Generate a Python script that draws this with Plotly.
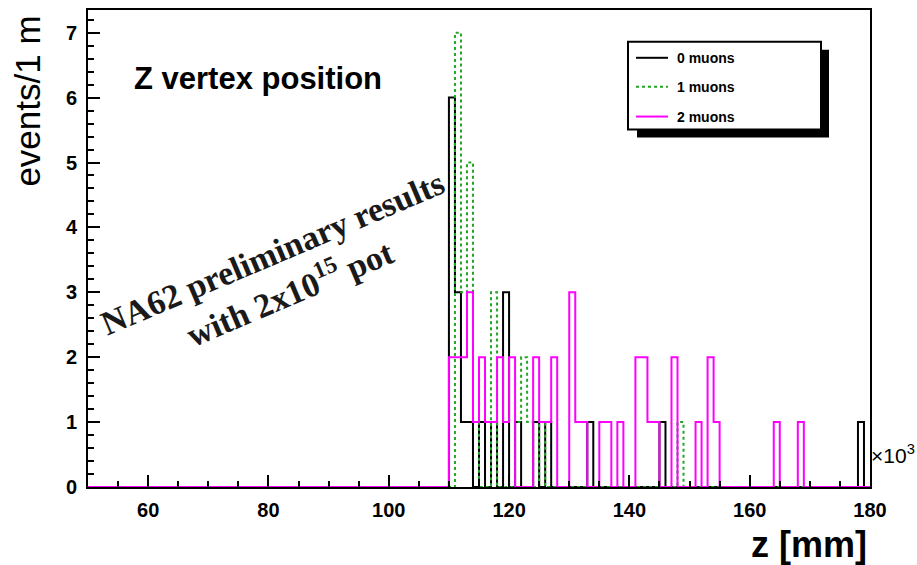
import plotly.graph_objects as go

# ---------------- data (bins of 1 m, x in units of 10^3 mm) ----------------
x_min, x_max = 50, 180
first_listed_bin = 108
# counts for bins 108 .. 179 (bins 50..107 are empty)
zero_muons = [0, 0, 6, 3, 1, 1, 0, 1, 0, 1, 0, 3, 0, 1, 0, 0, 1, 0, 1, 0,
              0, 0, 0, 0, 0, 1, 0, 0, 0, 0, 0, 0, 0, 0, 0, 0, 0, 1, 0, 0,
              0, 0, 0, 0, 0, 0, 0, 0, 0, 0, 0, 0, 0, 0, 0, 0, 0, 0, 0, 0,
              0, 0, 0, 0, 0, 0, 0, 0, 0, 0, 1, 0]
one_muon = [0, 0, 0, 7, 3, 5, 1, 0, 0, 3, 0, 0, 0, 1, 2, 1, 0, 1, 0, 0,
            0, 0, 0, 0, 0, 0, 0, 0, 0, 0, 0, 0, 0, 0, 0, 0, 0, 0, 0, 0,
            1, 0, 0, 0, 0, 0, 0, 0, 0, 0, 0, 0, 0, 0, 0, 0, 0, 0, 0, 0,
            0, 0, 0, 0, 0, 0, 0, 0, 0, 0, 0, 0]
two_muons = [0, 0, 2, 2, 2, 3, 1, 2, 1, 1, 2, 1, 2, 0, 0, 0, 2, 1, 1, 2,
             0, 0, 3, 1, 1, 0, 0, 1, 1, 0, 1, 0, 0, 2, 2, 1, 1, 0, 0, 2,
             0, 0, 0, 1, 0, 2, 1, 0, 0, 0, 0, 0, 0, 0, 0, 0, 1, 0, 0, 0,
             1, 0, 0, 0, 0, 0, 0, 0, 0, 0, 0, 0]
series_names = ["0 muons", "1 muons", "2 muons"]
x_tick_labels = ["60", "80", "100", "120", "140", "160", "180"]
y_tick_labels = ["0", "1", "2", "3", "4", "5", "6", "7"]
y_max = 7.35

# ---------------- layout helpers ----------------
W, H = 917, 565
L, R, T, B = 88, 870, 8, 487


def px(x):
    return (x - L) / (R - L)


def py(y):
    return (B - y) / (B - T)


edges = list(range(x_min, x_max + 1))
n_empty = first_listed_bin - x_min


def full(c):
    return [0] * n_empty + c


styles = [dict(color="black", width=2),
          dict(color="#22a522", width=2, dash="3px,3px"),
          dict(color="#ff00ff", width=2)]

fig = go.Figure()
for name, counts, st in zip(series_names, [zero_muons, one_muon, two_muons], styles):
    c = full(counts)
    fig.add_trace(go.Scatter(
        x=edges, y=c + [c[-1]], mode="lines", line_shape="hv",
        line=st, name=name, showlegend=False, hoverinfo="skip"))

tick_font = dict(family="Liberation Sans, Arial", size=20, color="black", weight="bold")

fig.update_layout(
    width=W, height=H,
    margin=dict(l=L, r=W - R, t=T, b=H - B),
    paper_bgcolor="white", plot_bgcolor="white",
    xaxis=dict(range=[x_min, x_max], showgrid=False, zeroline=False,
               showline=True, mirror=True, linecolor="black", linewidth=2,
               ticks="inside", ticklen=12, tickwidth=2, tickcolor="black",
               tickvals=[int(v) for v in x_tick_labels], ticktext=x_tick_labels,
               tickfont=tick_font, ticklabelstandoff=4,
               minor=dict(ticks="inside", dtick=5, tick0=50, ticklen=6,
                          tickwidth=2, tickcolor="black", showgrid=False)),
    yaxis=dict(range=[0, y_max], showgrid=False, zeroline=False,
               showline=True, mirror=True, linecolor="black", linewidth=2,
               ticks="inside", ticklen=12, tickwidth=2, tickcolor="black",
               tickvals=[int(v) for v in y_tick_labels], ticktext=y_tick_labels,
               tickfont=tick_font, ticklabelstandoff=5,
               minor=dict(ticks="inside", dtick=0.2, tick0=0, ticklen=6,
                          tickwidth=2, tickcolor="black", showgrid=False)),
)

# legend box with ROOT-like shadow
shapes = [
    dict(type="rect", xref="paper", yref="paper", x0=px(637), x1=px(829),
         y0=py(136), y1=py(48), fillcolor="black", line=dict(width=0), layer="above"),
    dict(type="rect", xref="paper", yref="paper", x0=px(628), x1=px(821),
         y0=py(128), y1=py(40), fillcolor="white",
         line=dict(color="black", width=2), layer="above"),
]
annotations = []
row_y = [56, 85, 115]
for name, st, yy in zip(series_names, styles, row_y):
    shapes.append(dict(type="line", xref="paper", yref="paper",
                       x0=px(636), x1=px(668), y0=py(yy), y1=py(yy),
                       line=st, layer="above"))
    annotations.append(dict(xref="paper", yref="paper", x=px(675), y=py(yy),
                            text=name, showarrow=False, xanchor="left", yanchor="middle",
                            font=dict(family="Liberation Sans, Arial", size=14,
                                      color="black", weight="bold")))

annotations += [
    dict(xref="paper", yref="paper", x=px(132), y=py(77), text="Z vertex position",
         showarrow=False, xanchor="left", yanchor="middle",
         font=dict(family="Liberation Sans, Arial", size=31, color="black", weight="bold")),
    dict(xref="paper", yref="paper", x=px(28), y=py(100), text="events/1 m",
         showarrow=False, textangle=-90, xanchor="center", yanchor="middle",
         font=dict(family="Liberation Sans, Arial", size=35, color="black")),
    dict(xref="paper", yref="paper", x=px(869), y=py(545), text="z [mm]",
         showarrow=False, xanchor="right", yanchor="middle",
         font=dict(family="Liberation Sans, Arial", size=36, color="black", weight="bold")),
    dict(xref="paper", yref="paper", x=px(869), y=py(454), text="×10<sup>3</sup>",
         showarrow=False, xanchor="left", yanchor="middle",
         font=dict(family="Liberation Sans, Arial", size=21, color="black")),
    dict(xref="paper", yref="paper", x=px(281), y=py(273),
         text="NA62 preliminary results<br>with 2x10<sup>15</sup> pot",
         showarrow=False, textangle=-23, xanchor="center", yanchor="middle",
         font=dict(family="Liberation Serif, Times New Roman", size=34,
                   color="#1a1a1a", weight="bold")),
]

fig.update_layout(shapes=shapes, annotations=annotations)
fig.write_html("out.html")
